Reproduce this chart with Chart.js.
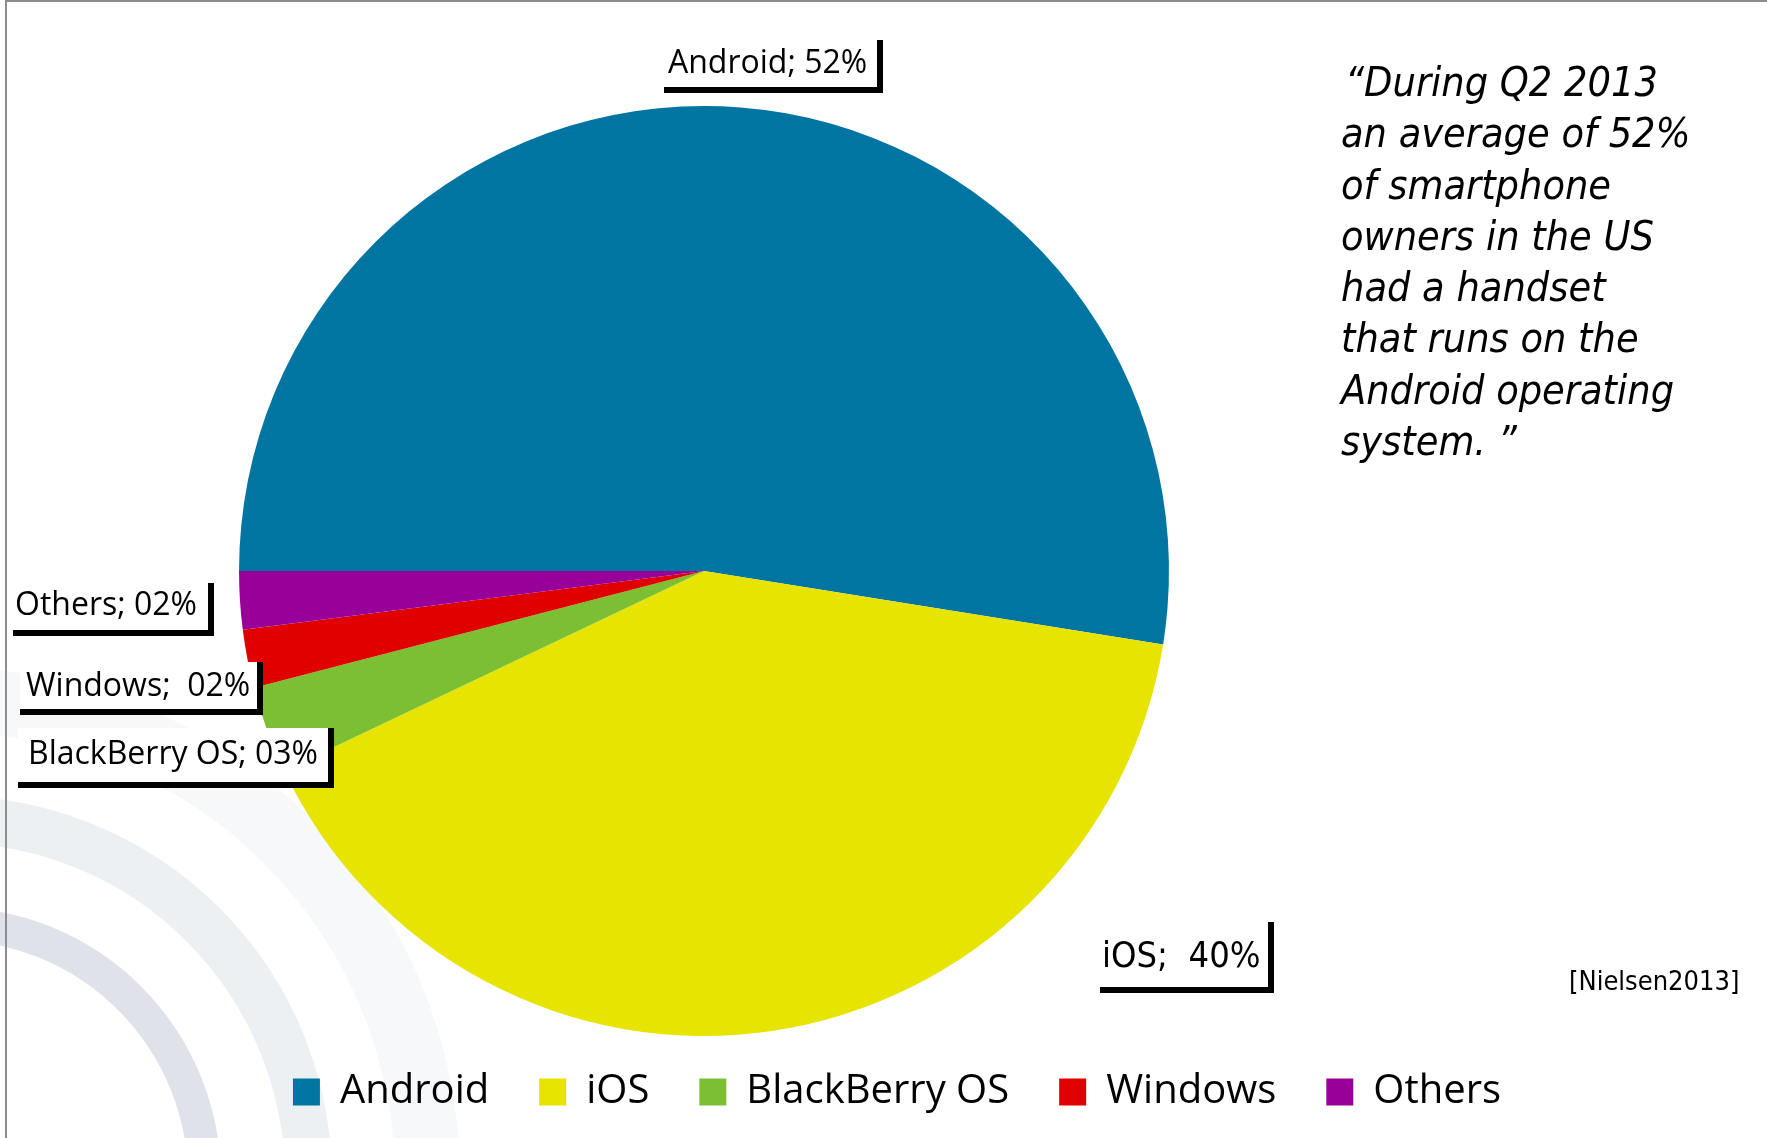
<!DOCTYPE html>
<html>
<head>
<meta charset="utf-8">
<title>US smartphone OS share Q2 2013</title>
<script src="https://cdn.jsdelivr.net/npm/chart.js@4.4.0/dist/chart.umd.min.js"></script>
<style>
  html, body { margin: 0; padding: 0; background: #fff; }
  #wrap { position: relative; width: 1767px; height: 1138px; overflow: hidden; }
  #frame { position: absolute; left: 5px; top: 0; right: 0; bottom: 0;
           border-left: 2px solid #8c8c8c; border-top: 2px solid #8c8c8c; pointer-events: none; }
  #quote { position: absolute; left: 1341px; top: 57px; color: #000;
           font-family: "DejaVu Sans Condensed", "DejaVu Sans", sans-serif; font-stretch: condensed;
           font-style: italic; font-size: 41px; line-height: 51.3px; letter-spacing: 0; white-space: nowrap; }
  #quote .first { padding-left: 4px; }
  #source { position: absolute; left: 1569px; top: 967px; color: #000;
            font-family: "DejaVu Sans Condensed", "DejaVu Sans", sans-serif; font-stretch: condensed;
            font-size: 27px; line-height: 27px; white-space: nowrap; }
</style>
</head>
<body>
<div id="wrap">
  <canvas id="shareChart" width="1767" height="1138"></canvas>
  <div id="quote"><span class="first">“During Q2 2013</span><br>an average of 52%<br>of smartphone<br>owners in the US<br>had a handset<br>that runs on the<br>Android operating<br>system. ”</div>
  <div id="source">[Nielsen2013]</div>
  <div id="frame"></div>
</div>
<script>
// données (part des OS, %)
var categories = ["Android", "iOS", "BlackBerry OS", "Windows", "Others"];
var shares = [52, 40, 3, 2, 2];
var sliceColors = ["#0075a2", "#e6e400", "#7dbf33", "#e00000", "#990099"];

// étiquettes encadrées : décalage par rapport au centre du camembert
var labelPlaces = [
  { dx: -40, dy: -531, w: 213, h: 47, tx: -36, ty: -498, sep: " ", font: '32px "Open Sans"' },
  { dx: 396, dy: 351, w: 168, h: 65, tx: 398, ty: 396, sep: "  ", font: '36px "DejaVu Sans Condensed"' },
  { dx: -686, dy: 157, w: 310, h: 54, tx: -676, ty: 193, sep: " ", font: '32px "Open Sans"' },
  { dx: -684, dy: 91, w: 237, h: 47, tx: -678, ty: 125, sep: "  ", font: '32px "Open Sans"' },
  { dx: -691, dy: 12, w: 195, h: 47, tx: -689, ty: 44, sep: " ", font: '32px "Open Sans"' }
];

function pad2(v) {
  return (v < 10 ? "0" : "") + v;
}

// réserve la place du texte de citation à droite (le centre du camembert se décale)
var quoteSpace = {
  id: "quoteSpace",
  start(chart) {
    Chart.layouts.addBox(chart, {
      position: "right",
      weight: 0,
      fullSize: false,
      options: {},
      left: 0, top: 0, right: 0, bottom: 0, width: 0, height: 0,
      isHorizontal() { return false; },
      update(maxWidth, maxHeight) {
        this.width = 386;
        this.height = maxHeight;
      },
      draw() {}
    });
  }
};

// arcs gris du modèle de diapo, en bas à gauche
var backdrop = {
  id: "backdrop",
  beforeDraw(chart) {
    var ctx = chart.ctx;
    var cx = -51, cy = chart.height + 41;
    var rings = [[239, 272, "#dfe3e9"], [336, 383, "#edf0f3"], [446, 511, "#f7f8fa"]];
    ctx.save();
    rings.forEach(function (r) {
      ctx.beginPath();
      ctx.lineWidth = r[1] - r[0];
      ctx.strokeStyle = r[2];
      ctx.arc(cx, cy, (r[0] + r[1]) / 2, 0, Math.PI * 2);
      ctx.stroke();
    });
    ctx.restore();
  }
};

var boxLabels = {
  id: "boxLabels",
  afterDraw(chart) {
    var ctx = chart.ctx;
    var arcs = chart.getDatasetMeta(0).data;
    var cx = arcs[0].x, cy = arcs[0].y;
    ctx.save();
    arcs.forEach(function (arc, i) {
      var p = labelPlaces[i];
      var x = cx + p.dx, y = cy + p.dy;
      ctx.fillStyle = "#000";
      ctx.fillRect(x + p.w, y, 6, p.h + 6);
      ctx.fillRect(x, y + p.h, p.w + 6, 6);
      ctx.fillStyle = "#fff";
      ctx.fillRect(x, y, p.w, p.h);
      ctx.fillStyle = "#000";
      ctx.font = p.font;
      ctx.textBaseline = "alphabetic";
      ctx.textAlign = "left";
      ctx.fillText(categories[i] + ";" + p.sep + pad2(shares[i]) + "%", cx + p.tx, cy + p.ty);
    });
    ctx.restore();
  }
};

var ctx1 = document.getElementById("shareChart").getContext("2d");
new Chart(ctx1, {
  type: "pie",
  data: {
    labels: categories,
    datasets: [
      {
        data: shares,
        backgroundColor: sliceColors,
        borderWidth: 0,
        radius: "103.1%",
      },
    ],
  },
  options: {
    responsive: false,
    animation: false,
    rotation: -90,
    layout: { padding: { top: 120, bottom: 16, left: 27, right: 0 } },
    plugins: {
      tooltip: { enabled: false },
      legend: {
        position: "bottom",
        labels: {
          boxWidth: 27,
          boxHeight: 27,
          padding: 50,
          color: "#000",
          font: { family: "Open Sans", size: 40 },
        },
      },
    },
  },
  plugins: [quoteSpace, backdrop, boxLabels],
});
</script>
</body>
</html>
